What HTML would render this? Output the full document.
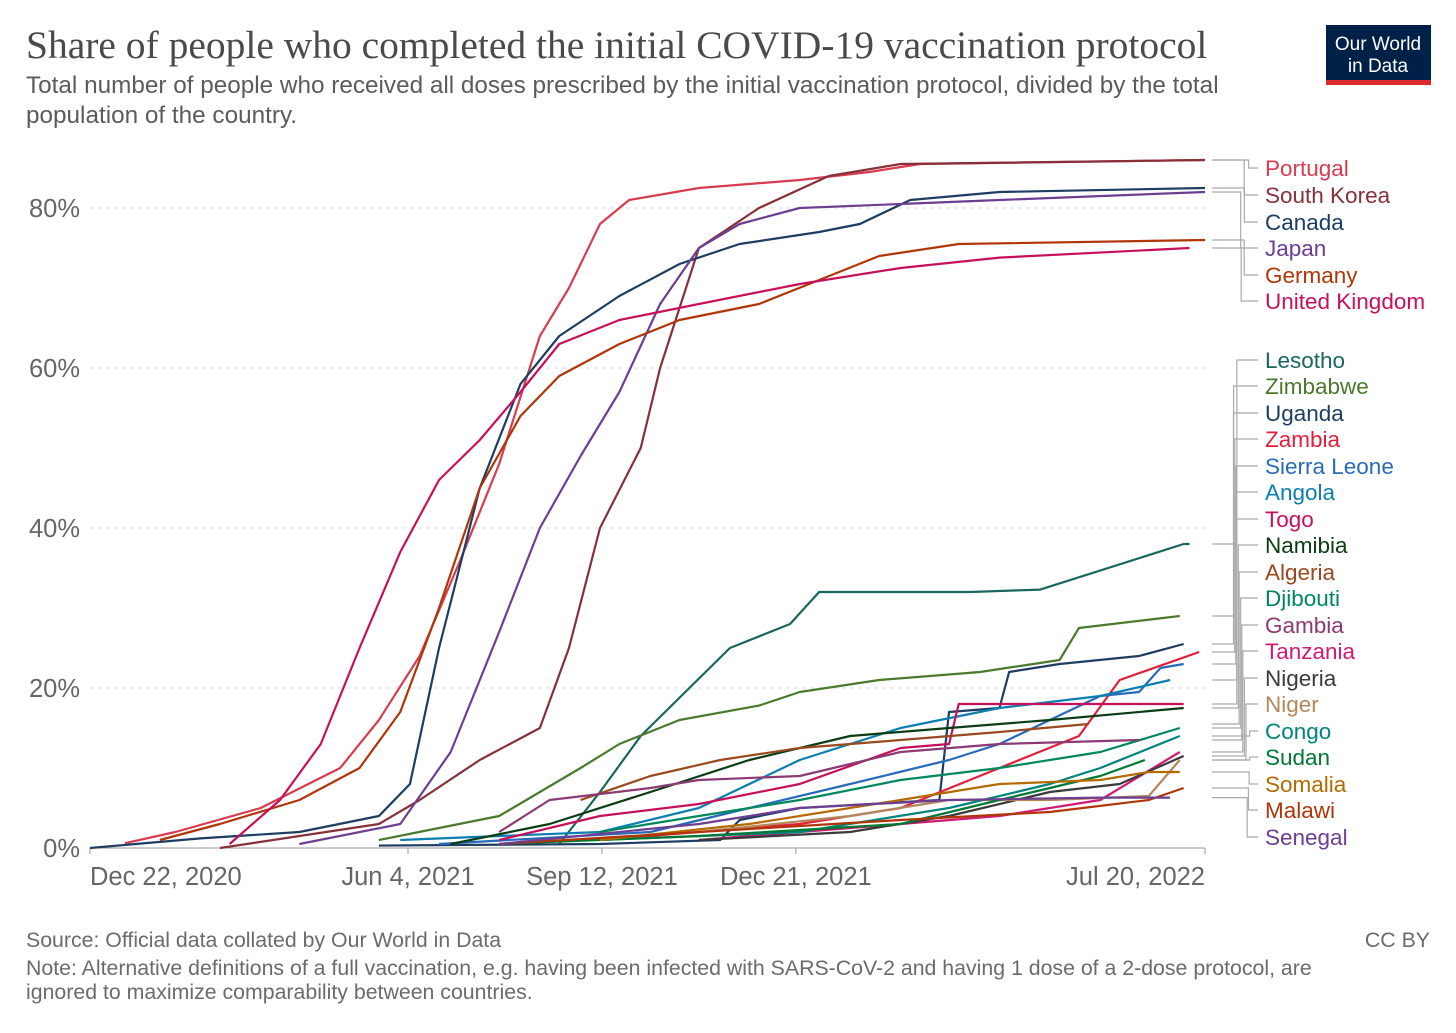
<!DOCTYPE html>
<html><head><meta charset="utf-8"><style>
html,body{margin:0;padding:0;background:#fff}
svg text{font-family:"Liberation Sans",sans-serif}
</style></head><body>
<svg width="1456" height="1028" viewBox="0 0 1456 1028" xmlns="http://www.w3.org/2000/svg">
<text x="26" y="58" style="font-family:'Liberation Serif',serif" font-size="39.5" fill="#4a4a4a">Share of people who completed the initial COVID-19 vaccination protocol</text>
<text x="26" y="93" font-size="24.3" fill="#5b5b5b">Total number of people who received all doses prescribed by the initial vaccination protocol, divided by the total</text>
<text x="26" y="123" font-size="24.3" fill="#5b5b5b">population of the country.</text>
<g>
<rect x="1326" y="25" width="105" height="60" fill="#002147"/>
<rect x="1326" y="80" width="105" height="5" fill="#dc2b2b"/>
<text x="1378" y="50" font-size="19" fill="#fff" text-anchor="middle">Our World</text>
<text x="1378" y="72" font-size="19" fill="#fff" text-anchor="middle">in Data</text>
</g>
<g id="grid"></g>
<g id="xaxis"></g>
<g id="lines"></g>
<g id="labels"></g>
<text x="26" y="947" font-size="21.3" fill="#6b6b6b">Source: Official data collated by Our World in Data</text>
<text x="1430" y="947" font-size="21.3" fill="#6b6b6b" text-anchor="end">CC BY</text>
<text x="26" y="975" font-size="21.3" fill="#6b6b6b">Note: Alternative definitions of a full vaccination, e.g. having been infected with SARS-CoV-2 and having 1 dose of a 2-dose protocol, are</text>
<text x="26" y="999" font-size="21.3" fill="#6b6b6b">ignored to maximize comparability between countries.</text>
</svg>
<script>
// days since Dec 22, 2020 ; value in %
const yTicks=[0,20,40,60,80];
const xTickDays=[0,164,264,364,575];
const xTickLabels=["Dec 22, 2020","Jun 4, 2021","Sep 12, 2021","Dec 21, 2021","Jul 20, 2022"];
const portugal=[[18,0.6],[44,2],[88,5],[129,10],[149,16],[170,24],[191,36],[211,48],[232,64],[247,70],[263,78],[278,81],[314,82.5],[366,83.5],[402,84.5],[428,85.5],[575,86]];
const southKorea=[[67,0],[149,3],[170,6],[201,11],[232,15],[247,25],[263,40],[284,50],[294,60],[314,75],[345,80],[381,84],[418,85.5],[575,86]];
const canada=[[0,0],[57,1.2],[108,2],[149,4],[165,8],[180,25],[201,45],[222,58],[242,64],[273,69],[304,73],[335,75.5],[376,77],[397,78],[423,81],[469,82],[575,82.5]];
const japan=[[108,0.5],[160,3],[186,12],[211,27],[232,40],[253,49],[273,57],[294,68],[314,75],[335,78],[366,80],[418,80.5],[469,81],[575,82]];
const germany=[[36,1],[67,3],[108,6],[139,10],[160,17],[180,30],[201,45],[222,54],[242,59],[273,63],[304,66],[345,68],[376,71],[407,74],[448,75.5],[575,76]];
const uk=[[72,0.5],[98,6],[119,13],[139,25],[160,37],[180,46],[201,51],[222,57],[242,63],[273,66],[314,68],[366,70.5],[418,72.5],[469,73.8],[567,75]];
const lesotho=[[242,0.5],[263,7],[284,14],[330,25],[361,28],[376,32],[454,32],[490,32.3],[564,38],[567,38]];
const zimbabwe=[[149,1],[180,2.5],[211,4],[232,7],[253,10],[273,13],[304,16],[345,17.8],[366,19.5],[407,21],[459,22],[500,23.5],[510,27.5],[562,29]];
const uganda=[[149,0.3],[263,0.5],[325,1],[335,3.5],[366,5],[438,6],[443,17],[469,17.5],[474,22],[500,23],[541,24],[564,25.5]];
const zambia=[[263,1],[366,3],[418,5],[469,10],[510,14],[531,21],[572,24.5]];
const sierraLeone=[[180,0.5],[289,2],[340,5],[392,8],[443,11],[469,13],[521,19],[541,19.5],[552,22.5],[564,23]];
const angola=[[160,1],[263,2],[314,5],[366,11],[418,15],[469,17.5],[521,19],[557,21]];
const togo=[[211,1],[263,4],[314,5.5],[366,8],[418,12.5],[443,13],[448,18],[564,18]];
const namibia=[[186,0.5],[237,3],[289,7],[340,11],[392,14],[443,15],[495,16],[564,17.5]];
const algeria=[[253,6],[289,9],[325,11],[366,12.5],[418,13.5],[469,14.5],[515,15.5]];
const djibouti=[[263,2],[314,4],[366,6],[418,8.5],[469,10],[521,12],[562,15]];
const gambia=[[211,2],[237,6],[289,7.5],[314,8.5],[366,9],[418,12],[469,13],[541,13.5]];
const tanzania=[[314,1],[418,3],[469,4],[521,6],[562,12]];
const nigeria=[[314,1],[392,2],[443,4],[495,7],[531,8],[564,11.5]];
const niger=[[314,2],[392,4],[443,6],[495,6],[546,6.5],[562,11]];
const congo=[[263,1],[366,2],[443,5],[495,8],[521,10],[562,14]];
const sudan=[[211,0.5],[314,1.5],[418,3],[469,6],[521,9],[544,11]];
const somalia=[[263,1],[340,3],[418,6],[469,8],[521,8.5],[546,9.5],[562,9.5]];
const malawi=[[211,0.5],[314,2],[418,3.5],[495,4.5],[546,6],[564,7.5]];
const senegal=[[211,0.5],[314,3],[366,5],[443,6],[521,6.3],[557,6.3]];
const names=["Portugal","South Korea","Canada","Japan","Germany","United Kingdom","Lesotho","Zimbabwe","Uganda","Zambia","Sierra Leone","Angola","Togo","Namibia","Algeria","Djibouti","Gambia","Tanzania","Nigeria","Niger","Congo","Sudan","Somalia","Malawi","Senegal"];
const series=[portugal,southKorea,canada,japan,germany,uk,lesotho,zimbabwe,uganda,zambia,sierraLeone,angola,togo,namibia,algeria,djibouti,gambia,tanzania,nigeria,niger,congo,sudan,somalia,malawi,senegal];
const colors=["#d73c50","#883039","#1d3d63","#6d3e91","#b13507","#c7105c","#18665e","#4c7a2c","#1d3d63","#e0203a","#286bbb","#0b7fb0","#c7105c","#0b3d14","#9a4a1e","#00875e","#8c3a73","#d01a74","#3a3a3a","#b4875a","#00847e","#007a33","#b56a00","#b13507","#6d3e91"];
const labelY=[168,195,222,248,275,301,360,386,413,439,466,492,519,545,572,598,625,651,678,704,731,757,784,810,837];

const NS="http://www.w3.org/2000/svg";
const X0=90,X1=1205,D1=575,Y0=848,YP=8;
const xs=d=>X0+(d/D1)*(X1-X0);
const ys=v=>Y0-v*YP;
function mk(t,a,p){const e=document.createElementNS(NS,t);for(const k in a)e.setAttribute(k,a[k]);p.appendChild(e);return e;}
const grid=document.getElementById('grid');
yTicks.forEach(v=>{
  if(v>0){const l=mk('line',{x1:X0,x2:X1,y1:ys(v),y2:ys(v),stroke:'#ddd','stroke-dasharray':'4,4'},grid);
  
  }
  const t=mk('text',{x:80,y:ys(v)+9,'text-anchor':'end','font-size':'25.5',fill:'#666'},grid);
  
  
  t.textContent=v+'%';
});
const xa=document.getElementById('xaxis');
mk('line',{x1:X0,x2:X1,y1:Y0,y2:Y0,stroke:'#999'},xa);
xTickDays.forEach((d,i)=>{
  mk('line',{x1:xs(d),x2:xs(d),y1:Y0,y2:Y0+6,stroke:'#999'},xa);
  const anchor=i==0?'start':(i==xTickDays.length-1?'end':'middle');
  const t=mk('text',{x:xs(d),y:885,'text-anchor':anchor,'font-size':'25.5',fill:'#666'},xa);
  
  
  t.textContent=xTickLabels[i];
});
const lg=document.getElementById('lines'),lb=document.getElementById('labels');
series.forEach((s,i)=>{
  const p=mk('polyline',{points:s.map(q=>xs(q[0])+','+ys(q[1])).join(' '),fill:'none',stroke:colors[i],'stroke-width':'2.2','stroke-linejoin':'round'},lg);
  
  
  const last=s[s.length-1];const ey=ys(last[1]);
  const grp=i<6?0:1;
  const ex=1250-Math.min(32,Math.abs(labelY[i]-ey)/(grp?14:6));
  const c=mk('polyline',{points:`1212,${ey} ${ex},${ey} ${ex},${labelY[i]} 1258,${labelY[i]}`,fill:'none',stroke:'#aaa','stroke-width':'1.2'},lb);
  
  
  const t=mk('text',{x:1265,y:labelY[i]+8,'font-size':'22.5',fill:colors[i]},lb);
  
  
  t.textContent=names[i];
});
</script>
</body></html>
